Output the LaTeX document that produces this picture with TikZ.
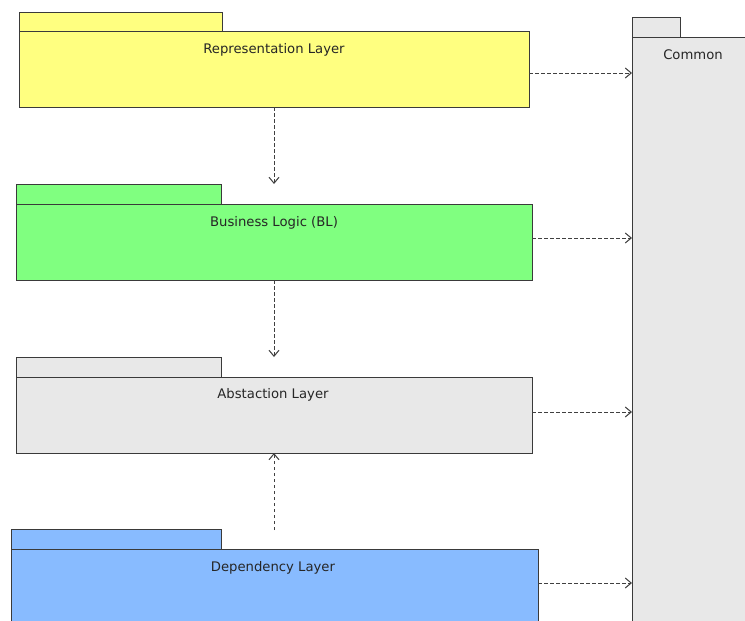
\documentclass[tikz,border=0pt]{standalone}
\usepackage{fontspec}
\setmainfont{DejaVu Sans}
\usetikzlibrary{arrows.meta,calc}
\definecolor{cyel}{HTML}{FFFF80}
\definecolor{cgrn}{HTML}{80FF80}
\definecolor{cgry}{HTML}{E8E8E8}
\definecolor{cblu}{HTML}{88BBFF}
\definecolor{cline}{HTML}{3A3A3A}
\begin{document}
\begin{tikzpicture}[x=1pt,y=-1pt,
  pkg/.style={draw=cline,line width=1pt,inner sep=0pt,outer sep=0pt,rectangle,anchor=north west},
  lbl/.style={font=\fontsize{13.2}{15}\selectfont,text=black!85,inner sep=0pt},
  dep/.style={draw=black!75,line width=1pt,dash pattern=on 3.5pt off 2.5pt,-{Straight Barb[length=6pt,width=10pt,line width=1pt]}}]
\clip (0,0) rectangle (745,621);
\fill[white] (0,0) rectangle (745,621);
% Common
\node[pkg,fill=cgry,minimum width=48pt,minimum height=20pt] (comtab) at (632,17) {};
\node[pkg,fill=cgry,minimum width=140pt,minimum height=620pt] (com) at (632,37) {};
\node[lbl] (comt) at (693,55) {Common};
% Representation
\node[pkg,fill=cyel,minimum width=203pt,minimum height=19pt] (reptab) at (19,12) {};
\node[pkg,fill=cyel,minimum width=510pt,minimum height=76pt] (rep) at (19,31) {};
\node[lbl] (rept) at (274,50) {Representation Layer};
% Business logic
\node[pkg,fill=cgrn,minimum width=205pt,minimum height=20pt] (bltab) at (16,184) {};
\node[pkg,fill=cgrn,minimum width=516pt,minimum height=76pt] (bl) at (16,204) {};
\node[lbl] (blt) at (274,223) {Business Logic (BL)};
% Abstraction
\node[pkg,fill=cgry,minimum width=205pt,minimum height=20pt] (abtab) at (16,357) {};
\node[pkg,fill=cgry,minimum width=516pt,minimum height=76pt] (ab) at (16,377) {};
\node[lbl] (abt) at (273,395) {Abstaction Layer};
% Dependency
\node[pkg,fill=cblu,minimum width=210pt,minimum height=20pt] (dptab) at (11,529) {};
\node[pkg,fill=cblu,minimum width=527pt,minimum height=120pt] (dp) at (11,549) {};
\node[lbl] (dpt) at (273,568) {Dependency Layer};
% vertical dependencies
\coordinate (r1) at (274,107); \coordinate (r2) at (274,184);
\coordinate (b1) at (274,280); \coordinate (b2) at (274,357);
\coordinate (d1) at (274,530); \coordinate (d2) at (274,453);
\draw[dep] (r1) -- (r2);
\draw[dep] (b1) -- (b2);
\draw[dep] (d1) -- (d2);
% horizontal dependencies
\draw[dep] (rep.east |- 0,73) -- (com.west |- 0,73);
\draw[dep] (bl.east |- 0,238) -- (com.west |- 0,238);
\draw[dep] (ab.east |- 0,412) -- (com.west |- 0,412);
\draw[dep] (dp.east |- 0,583) -- (com.west |- 0,583);
\end{tikzpicture}
\end{document}
